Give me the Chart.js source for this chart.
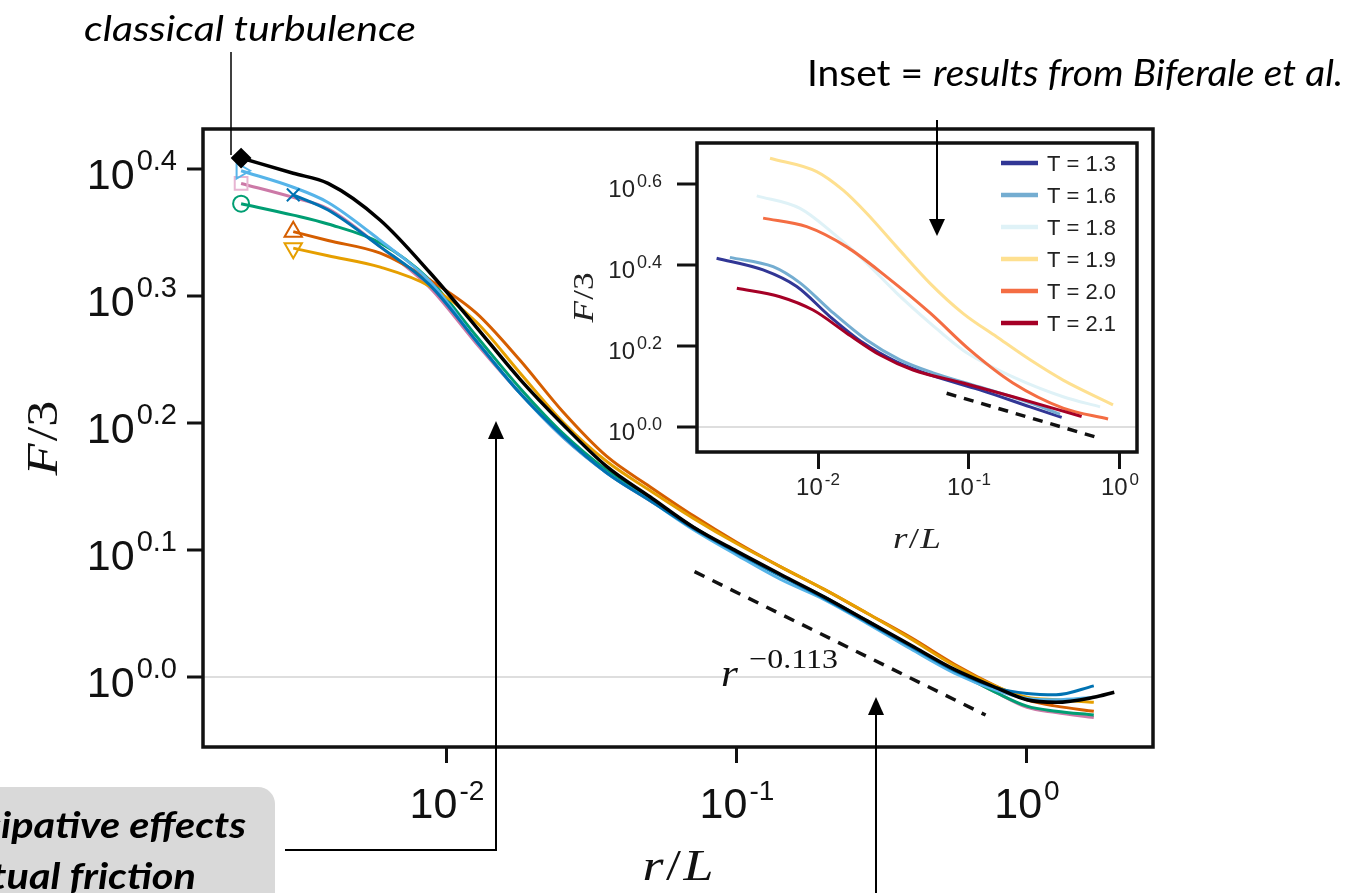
<!DOCTYPE html>
<html>
<head>
<meta charset="utf-8">
<script src="https://cdn.jsdelivr.net/npm/chart.js@4.4.1/dist/chart.umd.min.js"></script>
<style>
  html, body { margin: 0; padding: 0; background: #fff; }
  #wrap { position: relative; width: 1353px; height: 893px; overflow: hidden; }
  #wrap canvas { position: absolute; left: 0; top: 0; }
</style>
</head>
<body>
<div id="wrap">
  <canvas id="main" width="1353" height="893"></canvas>
  <canvas id="inset" width="1353" height="893"></canvas>
</div>
<script>
// ---- main panel: r/L grid and log10(F/3) for each run ----
const rMain = [0.00195, 0.00295, 0.00389, 0.00589, 0.00871, 0.0126, 0.0178, 0.0251, 0.0355, 0.0501, 0.0708, 0.1, 0.141, 0.2, 0.282, 0.398, 0.562, 0.794, 1.0, 1.26, 1.7, 2.0];
const fBlack = [0.409, 0.397, 0.389, 0.360, 0.319, 0.276, 0.235, 0.199, 0.166, 0.142, 0.118, 0.099, 0.081, 0.063, 0.044, 0.025, 0.006, -0.009, -0.018, -0.020, -0.016, -0.012];
const fSky = [0.399, 0.386, 0.374, 0.344, 0.312, 0.265, 0.224, 0.189, 0.161, 0.139, 0.116, 0.096, 0.077, 0.061, 0.042, 0.022, 0.003, -0.011, -0.017, -0.018, -0.016, null];
const fBlue = [null, 0.380, 0.368, 0.339, 0.309, 0.265, 0.224, 0.190, 0.161, 0.139, 0.117, 0.098, 0.080, 0.062, 0.043, 0.024, 0.005, -0.009, -0.013, -0.014, -0.007, null];
const fPink = [0.389, 0.378, 0.369, 0.339, 0.307, 0.263, 0.224, 0.189, 0.161, 0.139, 0.118, 0.098, 0.080, 0.063, 0.044, 0.024, 0.005, -0.013, -0.024, -0.028, -0.032, null];
const fGreen = [0.373, 0.364, 0.357, 0.342, 0.313, 0.269, 0.228, 0.192, 0.163, 0.140, 0.118, 0.098, 0.080, 0.063, 0.044, 0.024, 0.005, -0.013, -0.023, -0.027, -0.030, null];
const fVermilion = [null, 0.351, 0.344, 0.334, 0.313, 0.287, 0.250, 0.209, 0.174, 0.150, 0.127, 0.106, 0.087, 0.069, 0.050, 0.031, 0.010, -0.008, -0.018, -0.023, -0.027, null];
const fOrange = [null, 0.338, 0.332, 0.323, 0.308, 0.280, 0.240, 0.201, 0.170, 0.147, 0.125, 0.105, 0.087, 0.069, 0.050, 0.030, 0.009, -0.008, -0.016, -0.018, -0.020, null];
// power law guide r^-0.113
const rGuide = [0.0714, 0.720];
const fGuide = [0.083, -0.030];

const mainXTicks = [0.01, 0.1, 1];
const mainYTicks = [0, 0.1, 0.2, 0.3, 0.4];

// ---- inset (Biferale et al.) ----
const insetLabels = ['T = 1.3', 'T = 1.6', 'T = 1.8', 'T = 1.9', 'T = 2.0', 'T = 2.1'];
const insetColors = ['#313695', '#74add1', '#dff2f7', '#fee090', '#f46d43', '#a50026'];
const r13 = [0.00213, 0.00433, 0.00723, 0.0120, 0.0199, 0.0332, 0.0552, 0.118, 0.254, 0.411];
const f13 = [0.416, 0.387, 0.346, 0.272, 0.207, 0.160, 0.128, 0.091, 0.049, 0.023];
const r16 = [0.00261, 0.00504, 0.0076, 0.0120, 0.0210, 0.0349, 0.0578, 0.118, 0.254, 0.401];
const f16 = [0.418, 0.395, 0.355, 0.288, 0.214, 0.165, 0.133, 0.098, 0.059, 0.031];
const r18 = [0.00393, 0.0076, 0.01256, 0.0210, 0.0332, 0.0552, 0.0912, 0.1954, 0.420, 0.738];
const f18 = [0.570, 0.539, 0.478, 0.404, 0.330, 0.256, 0.189, 0.123, 0.074, 0.049];
const r19 = [0.00481, 0.0098, 0.01466, 0.0210, 0.0332, 0.0552, 0.0912, 0.1524, 0.254, 0.420, 0.899];
const f19 = [0.663, 0.630, 0.584, 0.527, 0.444, 0.354, 0.280, 0.222, 0.165, 0.115, 0.054];
const r20 = [0.00433, 0.00841, 0.01549, 0.0285, 0.0552, 0.1016, 0.1954, 0.420, 0.834];
const f20 = [0.515, 0.494, 0.444, 0.370, 0.281, 0.189, 0.108, 0.046, 0.019];
const r21 = [0.00290, 0.00560, 0.00927, 0.01549, 0.02576, 0.0426, 0.0912, 0.1954, 0.557];
const f21 = [0.342, 0.321, 0.288, 0.231, 0.177, 0.140, 0.108, 0.074, 0.025];
const rGuideInset = [0.0711, 0.700];
const fGuideInset = [0.0825, -0.0262];

const insetXTicks = [0.01, 0.1, 1];
const insetYTicks = [0, 0.2, 0.4, 0.6];

const SANS = "'Liberation Sans', Arial, sans-serif";
const SERIF = "'Liberation Serif', 'DejaVu Serif', serif";
const NOTE = "Lato, 'Open Sans', sans-serif";

function pts(xs, ys) {
  const out = [];
  xs.forEach((x, i) => { if (ys[i] !== null) out.push({ x: x, y: ys[i] }); });
  return out;
}

// text made of several runs (different fonts / raised parts), optionally squeezed to a width
function drawParts(ctx, parts, x, y, align, width) {
  ctx.save();
  let w = 0;
  parts.forEach(p => { ctx.font = p.f; p.w = ctx.measureText(p.t).width; w += p.w + (p.gap || 0); });
  const s = width ? width / w : 1;
  const x0 = align === 'center' ? x - w * s / 2 : align === 'right' ? x - w * s : x;
  ctx.translate(x0, y);
  ctx.scale(s, 1);
  ctx.textAlign = 'left';
  ctx.textBaseline = 'alphabetic';
  let cx = 0;
  parts.forEach(p => { ctx.font = p.f; ctx.fillText(p.t, cx, p.dy || 0); cx += p.w + (p.gap || 0); });
  ctx.restore();
}

function arrowUp(ctx, x, yFrom, yTip) {
  ctx.beginPath(); ctx.moveTo(x, yFrom); ctx.lineTo(x, yTip + 14); ctx.stroke();
  ctx.beginPath(); ctx.moveTo(x, yTip); ctx.lineTo(x - 8, yTip + 18); ctx.lineTo(x + 8, yTip + 18); ctx.closePath(); ctx.fill();
}
function arrowDown(ctx, x, yFrom, yTip) {
  ctx.beginPath(); ctx.moveTo(x, yFrom); ctx.lineTo(x, yTip - 14); ctx.stroke();
  ctx.beginPath(); ctx.moveTo(x, yTip); ctx.lineTo(x - 8, yTip - 17); ctx.lineTo(x + 8, yTip - 17); ctx.closePath(); ctx.fill();
}

function run(label, ys, color, marker, width) {
  return {
    label: label,
    data: pts(rMain, ys),
    borderColor: color,
    borderWidth: width || 3,
    pointStyle: marker.style,
    pointRotation: marker.rot || 0,
    pointRadius: c => c.dataIndex === 0 ? marker.size : 0,
    pointBorderColor: marker.edge || color,
    pointBorderWidth: 2,
    pointBackgroundColor: marker.fill || 'rgba(0,0,0,0)'
  };
}

const mainFrame = {
  id: 'mainFrame',
  afterDraw(chart) {
    const ctx = chart.ctx, a = chart.chartArea;
    const xs = chart.scales.x, ys = chart.scales.y;
    ctx.save();
    ctx.strokeStyle = '#111';
    ctx.lineWidth = 3.5;
    ctx.strokeRect(a.left, a.top, a.right - a.left, a.bottom - a.top);
    ctx.fillStyle = '#111';
    mainYTicks.forEach(v => {
      const ty = ys.getPixelForValue(v);
      drawParts(ctx, [
        { t: '10', f: '43px ' + SANS, gap: 2 },
        { t: v.toFixed(1), f: '29px ' + SANS, dy: -19 }
      ], 177, ty + 20, 'right');
    });
    mainXTicks.forEach(v => {
      const tx = xs.getPixelForValue(v);
      drawParts(ctx, [
        { t: '10', f: '43px ' + SANS, gap: 2 },
        { t: String(Math.round(Math.log10(v))), f: '28px ' + SANS, dy: -18 }
      ], tx, 818, 'center');
    });
    // axis titles
    ctx.save();
    ctx.translate(57, (a.top + a.bottom) / 2);
    ctx.rotate(-Math.PI / 2);
    drawParts(ctx, [
      { t: 'F', f: 'italic 44px ' + SERIF, gap: 2 },
      { t: '/3', f: '44px ' + SERIF }
    ], 0, 0, 'center', 75);
    ctx.restore();
    drawParts(ctx, [
      { t: 'r', f: 'italic 44px ' + SERIF, gap: 2 },
      { t: '/', f: '44px ' + SERIF, gap: 2 },
      { t: 'L', f: 'italic 44px ' + SERIF }
    ], (a.left + a.right) / 2, 880, 'center', 71);
    // slope label
    drawParts(ctx, [
      { t: 'r', f: 'italic 38px ' + SERIF, gap: 10 },
      { t: '\u22120.113', f: '28px ' + SERIF, dy: -18 }
    ], 721, 686, 'left', 117);
    ctx.restore();
  }
};

new Chart(document.getElementById('main'), {
  type: 'line',
  data: {
    datasets: [
      run('black', fBlack, '#000000', { style: 'rectRot', size: 9, fill: '#000000' }, 3.5),
      run('blue', fBlue, '#0072b2', { style: 'crossRot', size: 9 }),
      run('sky', fSky, '#56b4e9', { style: 'triangle', rot: 90, size: 9 }),
      run('orange', fOrange, '#e69f00', { style: 'triangle', rot: 180, size: 10 }),
      run('vermilion', fVermilion, '#d55e00', { style: 'triangle', size: 10 }),
      run('green', fGreen, '#009e73', { style: 'circle', size: 8 }),
      run('pink', fPink, '#cc79a7', { style: 'rect', size: 9, edge: '#e7b5d2' }),
      {
        label: 'guide',
        data: pts(rGuide, fGuide),
        borderColor: '#111',
        borderWidth: 3.5,
        borderDash: [11, 9],
        pointRadius: 0,
        cubicInterpolationMode: 'default',
        tension: 0
      }
    ]
  },
  options: {
    responsive: false,
    animation: false,
    events: [],
    layout: { padding: { top: 129, right: 200, bottom: 0, left: 0 } },
    elements: { line: { cubicInterpolationMode: 'monotone' } },
    plugins: { legend: { display: false }, tooltip: { enabled: false } },
    scales: {
      x: {
        type: 'logarithmic',
        min: 0.001441,
        max: 2.72,
        afterBuildTicks: s => { s.ticks = mainXTicks.map(v => ({ value: v })); },
        afterFit: s => { s.height = 146; },
        ticks: { display: false },
        border: { display: false },
        grid: { drawOnChartArea: false, tickLength: 16, tickWidth: 3, tickColor: '#111' }
      },
      y: {
        type: 'linear',
        min: -0.0552,
        max: 0.4319,
        afterBuildTicks: s => { s.ticks = mainYTicks.map(v => ({ value: v })); },
        afterFit: s => { s.width = 203; },
        ticks: { display: false },
        border: { display: false },
        grid: {
          color: c => (c.tick && c.tick.value === 0) ? '#dedede' : 'rgba(0,0,0,0)',
          lineWidth: 2,
          tickLength: 16, tickWidth: 3, tickColor: '#111'
        }
      }
    }
  },
  plugins: [mainFrame]
});

// ---- inset chart, drawn on a canvas above the main one ----
const insetRuns = [[r13, f13], [r16, f16], [r18, f18], [r19, f19], [r20, f20], [r21, f21]];

const insetFrame = {
  id: 'insetFrame',
  beforeDraw(chart) {
    const ctx = chart.ctx, a = chart.chartArea;
    ctx.save();
    ctx.fillStyle = '#fff';
    ctx.fillRect(a.left, a.top, a.right - a.left, a.bottom - a.top);
    ctx.restore();
  },
  afterDraw(chart) {
    const ctx = chart.ctx, a = chart.chartArea;
    const xs = chart.scales.x, ys = chart.scales.y;
    ctx.save();
    ctx.strokeStyle = '#111';
    ctx.lineWidth = 3.5;
    ctx.strokeRect(a.left, a.top, a.right - a.left, a.bottom - a.top);
    ctx.fillStyle = '#222';
    insetYTicks.forEach(v => {
      const ty = ys.getPixelForValue(v);
      drawParts(ctx, [
        { t: '10', f: '24px ' + SANS, gap: 2 },
        { t: v.toFixed(1), f: '18px ' + SANS, dy: -10 }
      ], 662, ty + 13, 'right');
    });
    insetXTicks.forEach(v => {
      const tx = xs.getPixelForValue(v);
      drawParts(ctx, [
        { t: '10', f: '24px ' + SANS, gap: 2 },
        { t: String(Math.round(Math.log10(v))), f: '17px ' + SANS, dy: -10 }
      ], tx, 495, 'center');
    });
    ctx.save();
    ctx.translate(593, (a.top + a.bottom) / 2);
    ctx.rotate(-Math.PI / 2);
    drawParts(ctx, [
      { t: 'F', f: 'italic 30px ' + SERIF, gap: 1 },
      { t: '/3', f: '30px ' + SERIF }
    ], 0, 0, 'center', 50);
    ctx.restore();
    drawParts(ctx, [
      { t: 'r', f: 'italic 30px ' + SERIF, gap: 1 },
      { t: '/', f: '30px ' + SERIF, gap: 1 },
      { t: 'L', f: 'italic 30px ' + SERIF }
    ], (a.left + a.right) / 2, 548, 'center', 48);
    // legend
    insetLabels.forEach((lab, i) => {
      const y = 163 + 32 * i;
      ctx.strokeStyle = insetColors[i];
      ctx.lineWidth = 4.5;
      ctx.beginPath(); ctx.moveTo(1001, y); ctx.lineTo(1038, y); ctx.stroke();
      ctx.fillStyle = '#222';
      ctx.font = '22px ' + SANS;
      ctx.textAlign = 'left';
      ctx.fillText(lab, 1047, y + 8);
    });
    ctx.restore();

    // ---- slide annotations ----
    ctx.save();
    ctx.fillStyle = '#000';
    ctx.strokeStyle = '#000';
    drawParts(ctx, [{ t: 'classical turbulence', f: 'italic 35px ' + NOTE }], 84, 41, 'left', 332);
    drawParts(ctx, [
      { t: 'Inset = ', f: '36px ' + NOTE },
      { t: 'results from Biferale et al.', f: 'italic 36px ' + NOTE }
    ], 807, 86, 'left', 536);
    ctx.lineWidth = 1.5;
    ctx.beginPath(); ctx.moveTo(231, 52); ctx.lineTo(231, 155); ctx.stroke();
    ctx.lineWidth = 2;
    arrowDown(ctx, 937, 120, 236);
    // grey box, bottom left
    ctx.fillStyle = '#d9d9d9';
    ctx.beginPath();
    ctx.roundRect(-40, 787, 315, 160, 17);
    ctx.fill();
    ctx.fillStyle = '#000';
    ctx.font = 'italic bold 36px ' + NOTE;
    const sq = 245 / ctx.measureText('ipative effects').width;
    drawParts(ctx, [{ t: 'dissipative effects', f: 'italic bold 36px ' + NOTE }], 246, 838, 'right',
      sq * ctx.measureText('dissipative effects').width);
    drawParts(ctx, [{ t: 'mutual friction', f: 'italic bold 36px ' + NOTE }], 196, 889, 'right',
      sq * ctx.measureText('mutual friction').width);
    ctx.lineWidth = 2;
    ctx.beginPath(); ctx.moveTo(285, 850); ctx.lineTo(496, 850); ctx.stroke();
    arrowUp(ctx, 496, 851, 421);
    arrowUp(ctx, 876, 895, 697);
    ctx.restore();
  }
};

new Chart(document.getElementById('inset'), {
  type: 'line',
  data: {
    datasets: insetRuns.map((p, i) => ({
      label: insetLabels[i],
      data: pts(p[0], p[1]),
      borderColor: insetColors[i],
      borderWidth: 3,
      pointRadius: 0
    })).concat([{
      label: 'guide',
      data: pts(rGuideInset, fGuideInset),
      borderColor: '#111',
      borderWidth: 3.5,
      borderDash: [10, 8],
      pointRadius: 0,
      cubicInterpolationMode: 'default',
      tension: 0
    }]).reverse()
  },
  options: {
    responsive: false,
    animation: false,
    events: [],
    layout: { padding: { top: 143, right: 216, bottom: 0, left: 0 } },
    elements: { line: { cubicInterpolationMode: 'monotone' } },
    plugins: { legend: { display: false }, tooltip: { enabled: false } },
    scales: {
      x: {
        type: 'logarithmic',
        min: 0.00158,
        max: 1.296,
        afterBuildTicks: s => { s.ticks = insetXTicks.map(v => ({ value: v })); },
        afterFit: s => { s.height = 441; },
        ticks: { display: false },
        border: { display: false },
        grid: { drawOnChartArea: false, tickLength: 17, tickWidth: 3, tickColor: '#111' }
      },
      y: {
        type: 'linear',
        min: -0.0625,
        max: 0.7005,
        afterBuildTicks: s => { s.ticks = insetYTicks.map(v => ({ value: v })); },
        afterFit: s => { s.width = 697; },
        ticks: { display: false },
        border: { display: false },
        grid: {
          color: c => (c.tick && c.tick.value === 0) ? '#dedede' : 'rgba(0,0,0,0)',
          lineWidth: 2,
          tickLength: 20, tickWidth: 3, tickColor: '#111'
        }
      }
    }
  },
  plugins: [insetFrame]
});
</script>
</body>
</html>
